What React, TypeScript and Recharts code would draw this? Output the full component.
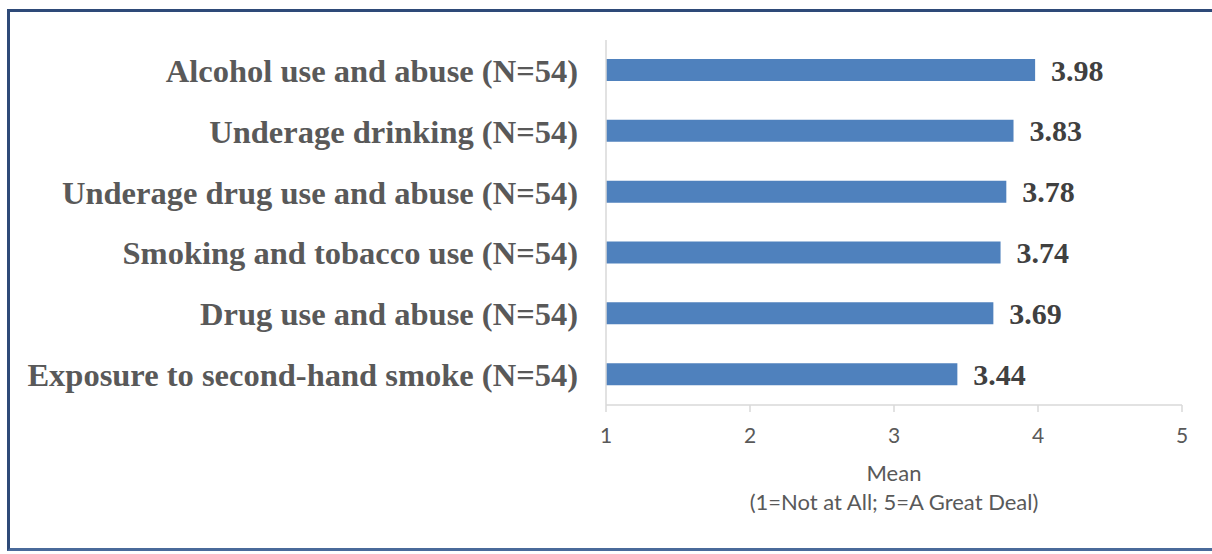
import React from "react";
import { BarChart, Bar, XAxis, YAxis, LabelList } from "recharts";

const categories = [
  "Alcohol use and abuse (N=54)",
  "Underage drinking (N=54)",
  "Underage drug use and abuse (N=54)",
  "Smoking and tobacco use (N=54)",
  "Drug use and abuse (N=54)",
  "Exposure to second-hand smoke (N=54)",
];
const means = [3.98, 3.83, 3.78, 3.74, 3.69, 3.44];
const xTicks = [1, 2, 3, 4, 5];
const axisTitle = "Mean";
const axisSubtitle = "(1=Not at All; 5=A Great Deal)";

const data = categories.map((name, i) => ({ name, mean: means[i] }));

const serif = "'Liberation Serif', 'DejaVu Serif', serif";
const sans = "Lato, 'Open Sans', sans-serif";

const AxisTitle = (props: any) => {
  const vb = props.viewBox || {};
  const cx = vb.x + vb.width / 2;
  return (
    <g>
      <text x={cx} y={481} textAnchor="middle" fill="#595959" fontFamily={sans} fontSize={22}>
        {axisTitle}
      </text>
      <text x={cx} y={510} textAnchor="middle" fill="#595959" fontFamily={sans} fontSize={22}>
        {axisSubtitle}
      </text>
    </g>
  );
};

export default function App() {
  return (
    <div
      style={{
        position: "absolute",
        top: 0,
        left: 0,
        width: 1212,
        height: 554,
        background: "#fff",
      }}
    >
      <div
        style={{
          position: "absolute",
          left: 7,
          top: 9,
          width: 1212 - 7,
          height: 551 - 9,
          boxSizing: "border-box",
          borderTop: "3px solid #2e4a78",
          borderLeft: "3px solid #2e4a78",
          borderBottom: "3px solid #4a6a9a",
        }}
      />
      <div style={{ position: "absolute", top: 0, left: 0 }}>
        <BarChart
          width={1212}
          height={554}
          data={data}
          layout="vertical"
          margin={{ top: 40, right: 30, bottom: 0, left: 0 }}
          barSize={22}
        >
          <XAxis
            type="number"
            domain={[1, 5]}
            ticks={xTicks}
            allowDataOverflow
            axisLine={{ stroke: "#d9d9d9", strokeWidth: 1.5 }}
            tickLine={{ stroke: "#d9d9d9", strokeWidth: 1.5 }}
            tickSize={7}
            tickMargin={16}
            fontSize={21}
            tick={{ fill: "#595959", fontFamily: sans, fontSize: 21 }}
            label={{ content: AxisTitle }}
            height={149}
          />
          <YAxis
            type="category"
            dataKey="name"
            width={606}
            axisLine={{ stroke: "#d9d9d9", strokeWidth: 1.5 }}
            tickLine={false}
            tickSize={0}
            tickMargin={28}
            interval={0}
            fontSize={32.5}
            tick={{ fill: "#595959", fontFamily: serif, fontSize: 32.5, fontWeight: "bold" }}
          />
          <Bar dataKey="mean" fill="#4f81bd" isAnimationActive={false}>
            <LabelList
              dataKey="mean"
              position="right"
              offset={16}
              formatter={(v: any) => Number(v).toFixed(2)}
              style={{ fill: "#404040", fontFamily: serif, fontSize: 30, fontWeight: "bold" }}
            />
          </Bar>
        </BarChart>
      </div>
    </div>
  );
}
